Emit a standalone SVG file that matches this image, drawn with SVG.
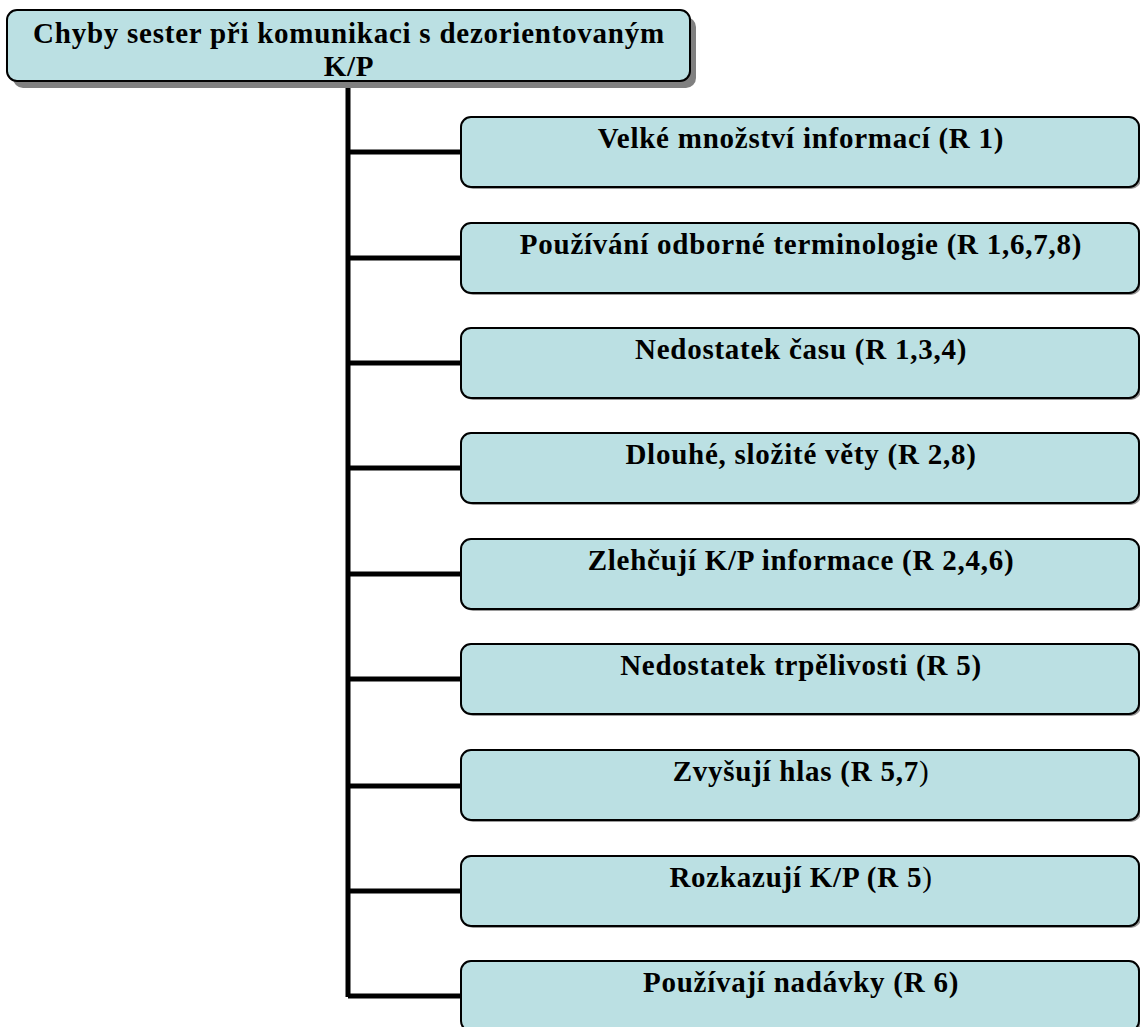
<svg xmlns="http://www.w3.org/2000/svg" width="1140" height="1027" viewBox="0 0 1140 1027">
<style>
.box{fill:#BBE0E3;stroke:#000;stroke-width:2}
.shadow{fill:#808080}
.sh2{fill:#9a9a9a}
.t{font-family:"Liberation Serif","Times New Roman",serif;font-weight:bold;font-size:29px;letter-spacing:0.75px;fill:#000;text-anchor:middle}
.n{font-weight:normal}
.c{stroke:#000;stroke-width:5;fill:none}
</style>
<rect width="1140" height="1027" fill="#fff"/>
<g id="connectors">
<path class="c" d="M348 81 V997"/>
<path class="c" d="M348 152 H461 M348 258 H461 M348 363 H461 M348 468 H461 M348 574 H461 M348 679 H461 M348 786 H461 M348 891 H461 M348 996 H461"/>
</g>
<g id="root">
<rect class="shadow" x="13" y="17" width="683" height="71" rx="10"/>
<rect class="box" x="7" y="10" width="683" height="71" rx="10"/>
<text class="t" x="349" y="43">Chyby sester při komunikaci s dezorientovaným</text>
<text class="t" x="349" y="76">K/P</text>
</g>
<g id="n1">
<rect class="sh2" x="463" y="119" width="678" height="70" rx="10"/>
<rect class="box" x="461" y="117" width="678" height="70" rx="10"/>
<text class="t" x="801" y="148">Velké množství informací (R 1)</text>
</g>
<g id="n2">
<rect class="sh2" x="463" y="225" width="678" height="70" rx="10"/>
<rect class="box" x="461" y="223" width="678" height="70" rx="10"/>
<text class="t" x="801" y="254">Používání odborné terminologie (R 1,6,7,8)</text>
</g>
<g id="n3">
<rect class="sh2" x="463" y="330" width="678" height="70" rx="10"/>
<rect class="box" x="461" y="328" width="678" height="70" rx="10"/>
<text class="t" x="801" y="359">Nedostatek času (R 1,3,4)</text>
</g>
<g id="n4">
<rect class="sh2" x="463" y="435" width="678" height="70" rx="10"/>
<rect class="box" x="461" y="433" width="678" height="70" rx="10"/>
<text class="t" x="801" y="464">Dlouhé, složité věty (R 2,8)</text>
</g>
<g id="n5">
<rect class="sh2" x="463" y="541" width="678" height="70" rx="10"/>
<rect class="box" x="461" y="539" width="678" height="70" rx="10"/>
<text class="t" x="801" y="570">Zlehčují K/P informace (R 2,4,6)</text>
</g>
<g id="n6">
<rect class="sh2" x="463" y="646" width="678" height="70" rx="10"/>
<rect class="box" x="461" y="644" width="678" height="70" rx="10"/>
<text class="t" x="801" y="675">Nedostatek trpělivosti (R 5)</text>
</g>
<g id="n7">
<rect class="sh2" x="463" y="752" width="678" height="70" rx="10"/>
<rect class="box" x="461" y="750" width="678" height="70" rx="10"/>
<text class="t" x="801" y="781">Zvyšují hlas (R 5,7<tspan class="n">)</tspan></text>
</g>
<g id="n8">
<rect class="sh2" x="463" y="858" width="678" height="70" rx="10"/>
<rect class="box" x="461" y="856" width="678" height="70" rx="10"/>
<text class="t" x="801" y="887">Rozkazují K/P (R 5<tspan class="n">)</tspan></text>
</g>
<g id="n9">
<rect class="sh2" x="463" y="963" width="678" height="70" rx="10"/>
<rect class="box" x="461" y="961" width="678" height="70" rx="10"/>
<text class="t" x="801" y="992">Používají nadávky (R 6)</text>
</g>
</svg>
